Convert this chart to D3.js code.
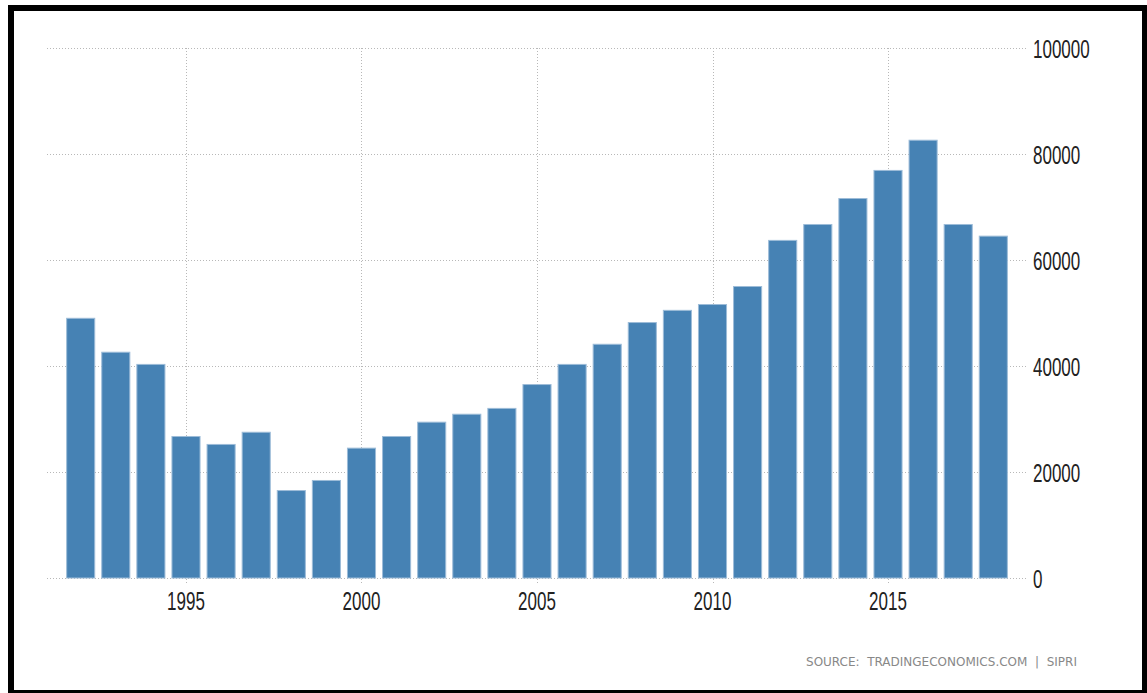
<!DOCTYPE html>
<html>
<head>
<meta charset="utf-8">
<script src="https://cdn.jsdelivr.net/npm/d3@7"></script>
<style>
  body { margin: 0; background: #fff; }
  .grid line { stroke: #b8b8b8; stroke-dasharray: 1,2; }
  .tick text { font-family: "Liberation Sans", Arial, sans-serif; fill: #222; }
</style>
</head>
<body>
<script>
// years and values
var years = d3.range(1992, 2019);
var values = [49000, 42600, 40300, 26700, 25200, 27500, 16500, 18400, 24500,
              26700, 29400, 30900, 32000, 36500, 40300, 44100, 48200, 50500,
              51600, 55000, 63700, 66700, 71600, 76900, 82600, 66700, 64500];
var yTicks = [0, 20000, 40000, 60000, 80000, 100000];
var xTicks = [1995, 2000, 2005, 2010, 2015];
var source = "SOURCE:\u00a0 TRADINGECONOMICS.COM\u00a0 |\u00a0 SIPRI";

var W = 1147, H = 693;
var plotLeft = 47, plotRight = 1027, plotTop = 48, plotBottom = 578;

var svg = d3.select("body").append("svg")
    .attr("width", W)
    .attr("height", H);

// frame
svg.append("rect").attr("x", 8).attr("y", 5).attr("width", W - 8).attr("height", H - 5).attr("fill", "#000");
svg.append("rect").attr("x", 14).attr("y", 11).attr("width", 1142 - 14).attr("height", 690 - 11).attr("fill", "#fff");

var x = d3.scaleBand()
    .domain(years)
    .range([plotLeft, plotRight])
    .paddingInner(0.2)
    .paddingOuter(0.56);

var y = d3.scaleLinear()
    .domain([0, 100000])
    .range([plotBottom, plotTop]);

function cx(yr) { return x(yr) + x.bandwidth() / 2; }

// horizontal grid
var gy = svg.append("g").attr("class", "grid");
gy.selectAll("line").data(yTicks).enter().append("line")
    .attr("x1", plotLeft).attr("x2", plotRight)
    .attr("y1", function(d) { return y(d) + 0.5; })
    .attr("y2", function(d) { return y(d) + 0.5; });

// vertical grid
var gx = svg.append("g").attr("class", "grid");
gx.selectAll("line").data(xTicks).enter().append("line")
    .attr("x1", function(d) { return Math.round(cx(d)) + 0.5; })
    .attr("x2", function(d) { return Math.round(cx(d)) + 0.5; })
    .attr("y1", plotTop)
    .attr("y2", plotBottom + 7);

// bars
svg.append("g").selectAll("rect")
    .data(years)
    .enter().append("rect")
    .attr("x", function(d) { return x(d); })
    .attr("y", function(d, i) { return y(values[i]); })
    .attr("width", x.bandwidth())
    .attr("height", function(d, i) { return plotBottom - y(values[i]); })
    .attr("fill", "#4682b4")
    .attr("stroke", "#9dbcd8")
    .attr("stroke-width", 1);

// right axis labels
var yAxis = svg.append("g")
    .attr("transform", "translate(" + (plotRight + 6) + ",0)")
    .call(d3.axisRight(y).tickValues(yTicks).tickFormat(d3.format("d")).tickSize(0).tickPadding(0));
yAxis.select(".domain").remove();
yAxis.selectAll(".tick text")
    .attr("font-size", 20)
    .attr("x", 0)
    .attr("dy", 0)
    .attr("transform", "translate(0,9) scale(0.85,1.26)");

// bottom axis labels
var xAxis = svg.append("g")
    .attr("transform", "translate(0," + plotBottom + ")")
    .call(d3.axisBottom(x).tickValues(xTicks).tickSize(0).tickPadding(0));
xAxis.select(".domain").remove();
xAxis.selectAll(".tick text")
    .attr("font-size", 20)
    .attr("y", 0)
    .attr("dy", 0)
    .attr("transform", "translate(0,32) scale(0.85,1.26)");

// source
svg.append("text")
    .attr("x", 1077)
    .attr("y", 666)
    .attr("text-anchor", "end")
    .attr("font-family", "'DejaVu Sans Condensed', 'DejaVu Sans', sans-serif")
    .attr("font-size", 13)
    .attr("fill", "#888")
    .attr("textLength", 271)
    .attr("lengthAdjust", "spacingAndGlyphs")
    .text(source);
</script>
</body>
</html>
